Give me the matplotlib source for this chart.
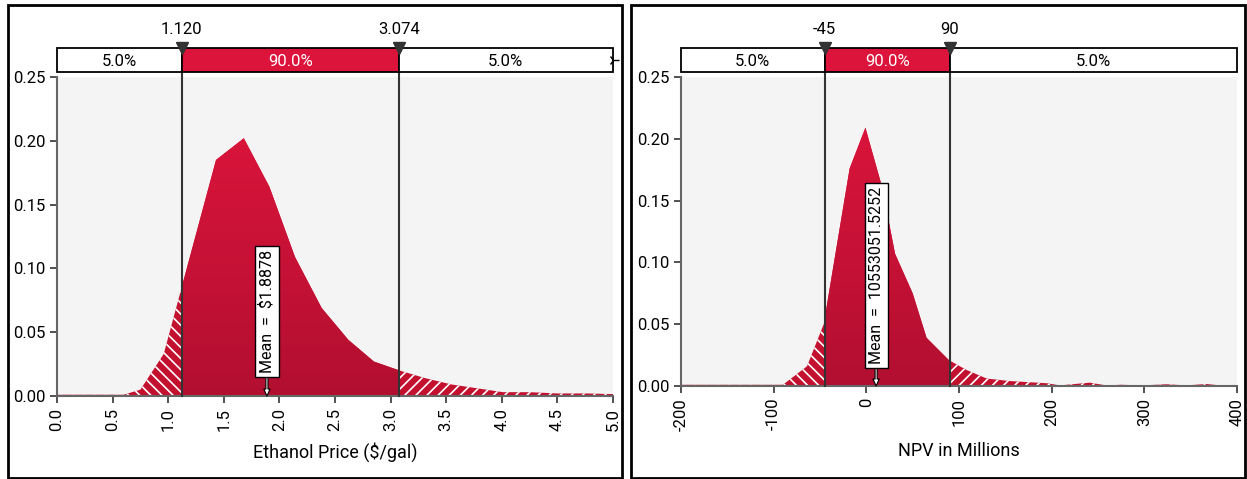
import numpy as np
import matplotlib
matplotlib.use("Agg")
import matplotlib.pyplot as plt
from matplotlib.patches import Rectangle

plt.rcParams['font.family'] = ['Roboto', 'DejaVu Sans']
plt.rcParams['hatch.linewidth'] = 1.2

# Ethanol price distribution
eth_x = [0.0, 0.3, 0.6, 0.75, 0.96, 1.43, 1.68, 1.91, 2.14, 2.38, 2.62, 2.85,
         3.08, 3.31, 3.55, 3.78, 4.01, 4.25, 4.5, 4.75, 5.0]
eth_y = [0.001, 0.001, 0.001, 0.005, 0.033, 0.185, 0.202, 0.164, 0.109, 0.069,
         0.044, 0.027, 0.020, 0.014, 0.009, 0.006, 0.003, 0.003, 0.002, 0.002, 0.0015]
eth_cuts = [1.120, 3.074]
eth_cut_labels = ['1.120', '3.074']
eth_mean = 1.8878
eth_mean_label = 'Mean  =  \\$1.8878'
eth_xticks = [0.0, 0.5, 1.0, 1.5, 2.0, 2.5, 3.0, 3.5, 4.0, 4.5, 5.0]

# NPV distribution (millions)
npv_x = [-200, -150, -90, -64, -46, -18, -1, 17, 31, 50, 65, 89, 108, 130, 155,
         195, 209, 241, 259, 275, 298, 324, 345, 367, 382, 400]
npv_y = [0.001, 0.001, 0.001, 0.016, 0.050, 0.176, 0.209, 0.161, 0.107, 0.075,
         0.039, 0.021, 0.013, 0.006, 0.004, 0.0022, 0.0005, 0.0027, 0.0005, 0.001,
         0.0005, 0.0014, 0.0005, 0.0016, 0.0005, 0.0008]
npv_cuts = [-45, 90]
npv_cut_labels = ['-45', '90']
npv_mean = 10.553
npv_mean_label = 'Mean  =  10553051.5252'
npv_xticks = [-200, -100, 0, 100, 200, 300, 400]

band_labels = ['5.0%', '90.0%', '5.0%']
yticks = [0.00, 0.05, 0.10, 0.15, 0.20, 0.25]

W, H = 1247, 479
CRIMSON = '#DC143C'
TAIL_RED = '#C3102F'


def fx(px):
    return px / W


def fy(px):
    # pixel row from top -> figure fraction
    return 1 - px / H


def segment(x, y, lo, hi):
    """Part of the curve between lo and hi, with end points on the curve."""
    x = np.asarray(x, float)
    y = np.asarray(y, float)
    inner = (x > lo) & (x < hi)
    xs = np.concatenate([[lo], x[inner], [hi]])
    ys = np.concatenate([[np.interp(lo, x, y)], y[inner], [np.interp(hi, x, y)]])
    return xs, ys


def draw_panel(fig, px_box, x, y, cuts, cut_labels, mean, mean_label, mean_y,
               xticks, xlabel, tick_fmt, show_end_marker):
    left, right, top, bottom = px_box
    ax = fig.add_axes([fx(left), fy(bottom), fx(right - left), (bottom - top) / H])
    ax.set_facecolor('#F4F4F4')
    xmin, xmax = x[0], x[-1]
    ax.set_xlim(xmin, xmax)
    ax.set_ylim(0, 0.25)

    # left tail (hatched)
    xs, ys = segment(x, y, xmin, cuts[0])
    ax.fill_between(xs, ys, facecolor=TAIL_RED, edgecolor='white', hatch='\\\\\\',
                    linewidth=0, zorder=2)
    # right tail (hatched)
    xs, ys = segment(x, y, cuts[1], xmax)
    ax.fill_between(xs, ys, facecolor=TAIL_RED, edgecolor='white', hatch='///',
                    linewidth=0, zorder=2)
    # middle 90% with a soft vertical gradient
    xs, ys = segment(x, y, cuts[0], cuts[1])
    poly = ax.fill_between(xs, ys, facecolor=CRIMSON, linewidth=0, zorder=2)
    grad = np.linspace(0, 1, 256).reshape(-1, 1)
    cmap = matplotlib.colors.LinearSegmentedColormap.from_list('g', ['#B20F30', '#D9143B'])
    im = ax.imshow(grad, extent=[cuts[0], cuts[1], 0, max(ys)], origin='lower',
                   aspect='auto', cmap=cmap, zorder=2.5)
    im.set_clip_path(poly.get_paths()[0], transform=ax.transData)

    # percentile lines run up through the band bar
    ext = (bottom - 48) / (bottom - top)
    for c in cuts:
        ax.axvline(c, ymin=0, ymax=ext, color='#333333', lw=1.5, clip_on=False, zorder=5)

    # mean label and arrow
    ax.annotate('', xy=(mean, 0), xytext=(mean, mean_y),
                arrowprops=dict(arrowstyle='simple,head_width=0.45,head_length=0.5,tail_width=0.15',
                                fc='white', ec='black', lw=0.8, shrinkA=0, shrinkB=0), zorder=6)
    ax.text(mean, mean_y, mean_label, rotation=90, ha='center', va='bottom', fontsize=11.5,
            bbox=dict(boxstyle='square,pad=0.25', fc='white', ec='black', lw=1), zorder=7)

    for side in ['top', 'right']:
        ax.spines[side].set_visible(False)
    for side in ['left', 'bottom']:
        ax.spines[side].set_color('#666666')
        ax.spines[side].set_linewidth(1.5)
    ax.set_yticks(yticks)
    ax.set_yticklabels([f'{v:.2f}' for v in yticks], fontsize=12)
    ax.set_xticks(xticks)
    ax.set_xticklabels([tick_fmt(v) for v in xticks], rotation=90, fontsize=12)
    ax.tick_params(direction='out', length=5, color='#333333', width=1.2)
    ax.set_xlabel(xlabel, fontsize=13, labelpad=8)

    # band bar above the plot
    bar = fig.add_axes([fx(left), fy(72), fx(right - left), 24 / H])
    bar.set_xlim(xmin, xmax)
    bar.set_ylim(0, 1)
    bar.axis('off')
    edges = [xmin, cuts[0], cuts[1], xmax]
    for i, lab in enumerate(band_labels):
        mid = i == 1
        bar.add_patch(Rectangle((edges[i], 0), edges[i + 1] - edges[i], 1,
                                fc=CRIMSON if mid else 'white', ec='black', lw=1.3,
                                clip_on=False))
        bar.text((edges[i] + edges[i + 1]) / 2, 0.45, lab, ha='center', va='center',
                 fontsize=12, color='white' if mid else 'black')
    for c, lab in zip(cuts, cut_labels):
        bar.plot(c, 1.0, marker='v', ms=9, color='#333333', clip_on=False, zorder=6)
        bar.text(c, 1.75, lab, ha='center', va='center', fontsize=12)
    if show_end_marker:
        bar.plot(xmax, 0.5, marker='4', ms=8, color='black', clip_on=False)
    return ax


if __name__ == "__main__":
    fig = plt.figure(figsize=(W / 100, H / 100), dpi=100)

    # panel frames
    for x0, x1 in [(8, 622), (631, 1245)]:
        fig.patches.append(Rectangle((fx(x0), fy(478)), fx(x1 - x0), (478 - 5) / H,
                                     transform=fig.transFigure, fill=False,
                                     ec='black', lw=2))

    draw_panel(fig, (57, 613, 77, 396), eth_x, eth_y, eth_cuts, eth_cut_labels,
               eth_mean, eth_mean_label, 0.018, eth_xticks, 'Ethanol Price ($/gal)',
               lambda v: f'{v:.1f}', True)
    draw_panel(fig, (681, 1237, 77, 386), npv_x, npv_y, npv_cuts, npv_cut_labels,
               npv_mean, npv_mean_label, 0.018, npv_xticks, 'NPV in Millions',
               lambda v: f'{v:d}', False)

    fig.savefig('out.png', dpi=100)
